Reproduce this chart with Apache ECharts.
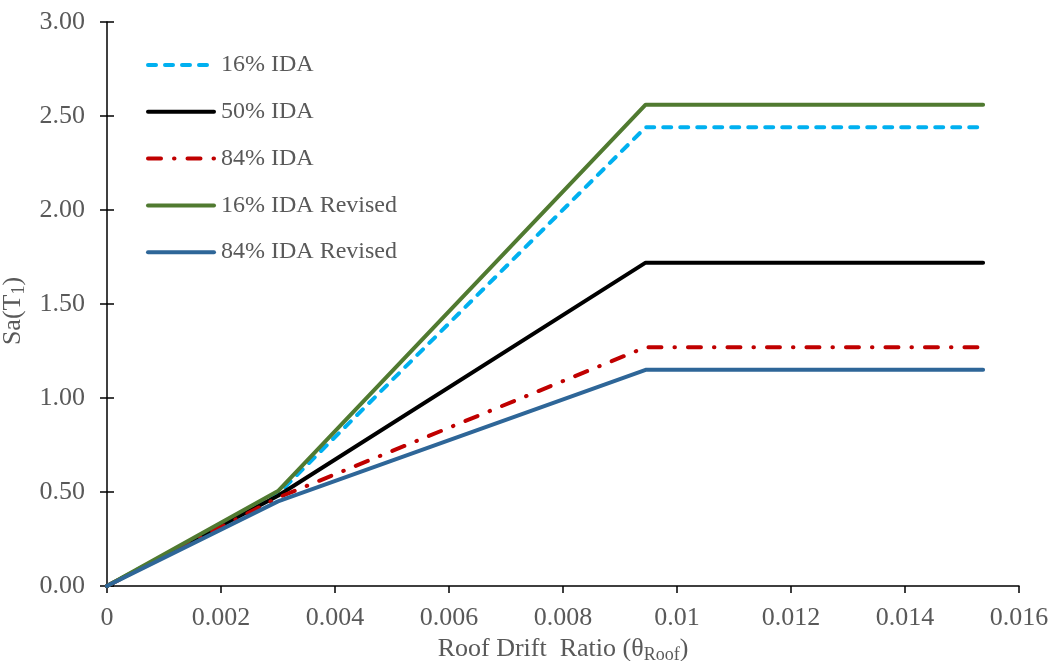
<!DOCTYPE html>
<html>
<head>
<meta charset="utf-8">
<script src="https://cdn.jsdelivr.net/npm/echarts@6/dist/echarts.min.js"></script>
<style>html,body{margin:0;padding:0;background:#fff}#c{width:1055px;height:661px}</style>
</head>
<body>
<div id="c"></div>
<script>
const drift = [0, 0.003, 0.00945, 0.01537];
const ida16 = [0, 0.49, 2.44, 2.44];
const ida50 = [0, 0.48, 1.72, 1.72];
const ida84 = [0, 0.47, 1.27, 1.27];
const ida16Rev = [0, 0.505, 2.56, 2.56];
const ida84Rev = [0, 0.45, 1.15, 1.15];
const names = ['16% IDA', '50% IDA', '84% IDA', '16% IDA Revised', '84% IDA Revised'];

const font = 'Liberation Serif';
const grey = '#595959';
function pts(ys){ return drift.map((x,i)=>[x, ys[i]]); }
function mk(name, ys, color, type, w){
  return {name, type:'line', data:pts(ys), showSymbol:false, symbol:'none',
    lineStyle:{color, width:w, type, cap:'round'}, itemStyle:{color}, silent:true};
}
const chart = echarts.init(document.getElementById('c'), null, {renderer:'canvas'});
const xBase = {type:'value', min:0, max:0.016, interval:0.002,
  axisLine:{show:true, onZero:false, lineStyle:{color:'#000', width:1.5}},
  splitLine:{show:false}};
const yBase = {type:'value', min:0, max:3, interval:0.5,
  axisLine:{show:true, onZero:false, lineStyle:{color:'#000', width:1.5}},
  splitLine:{show:false}};
chart.setOption({
  animation:false,
  backgroundColor:'#fff',
  grid:{left:107, right:36, top:22, bottom:75, containLabel:false, outerBoundsMode:'none'},
  legend:{
    data:names, orient:'vertical', left:146, top:53, padding:0,
    itemWidth:66, itemHeight:14, itemGap:22.8,
    itemStyle:{opacity:0},
    lineStyle:{width:4, cap:'round'},
    textStyle:{fontFamily:font, fontSize:24, color:grey, padding:[0,0,0,2]}
  },
  xAxis:[
    Object.assign({}, xBase, {
      axisTick:{show:true, inside:false, length:7, lineStyle:{color:'#000', width:1.5}},
      axisLabel:{fontFamily:font, fontSize:26, color:grey, margin:19,
        formatter:v=>String(+v.toFixed(3))},
      name:'Roof Drift  Ratio (θ{sub|Roof})', nameLocation:'middle', nameGap:46,
      nameTextStyle:{fontFamily:font, fontSize:26, color:grey,
        rich:{sub:{fontFamily:font, fontSize:18, color:grey, padding:[13,0,0,0], verticalAlign:'bottom'}}}
    }),
    Object.assign({}, xBase, {
      axisTick:{show:true, inside:true, length:7, lineStyle:{color:'#000', width:1.5}},
      axisLabel:{show:false}, axisLine:{show:false}
    })
  ],
  yAxis:[
    Object.assign({}, yBase, {
      axisTick:{show:true, inside:false, length:7, lineStyle:{color:'#000', width:1.5}},
      axisLabel:{fontFamily:font, fontSize:26, color:grey, margin:22,
        formatter:v=>v.toFixed(2)},
      name:'Sa(T{sub|1})', nameLocation:'middle', nameGap:71, nameRotate:90,
      nameTextStyle:{fontFamily:font, fontSize:26, color:grey, padding:[0,14,0,0],
        rich:{sub:{fontFamily:font, fontSize:18, color:grey, padding:[13,0,0,0], verticalAlign:'bottom'}}}
    }),
    Object.assign({}, yBase, {
      position:'left',
      axisTick:{show:true, inside:true, length:7, lineStyle:{color:'#000', width:1.5}},
      axisLabel:{show:false}, axisLine:{show:false}
    })
  ],
  series:[
    mk(names[0], ida16, '#00B0F0', [8,9], 4),
    mk(names[1], ida50, '#000000', 'solid', 4),
    mk(names[2], ida84, '#C00000', [13,13,0.5,13], 4),
    mk(names[3], ida16Rev, '#507A30', 'solid', 4),
    mk(names[4], ida84Rev, '#2E6698', 'solid', 4)
  ]
});
</script>
</body>
</html>
